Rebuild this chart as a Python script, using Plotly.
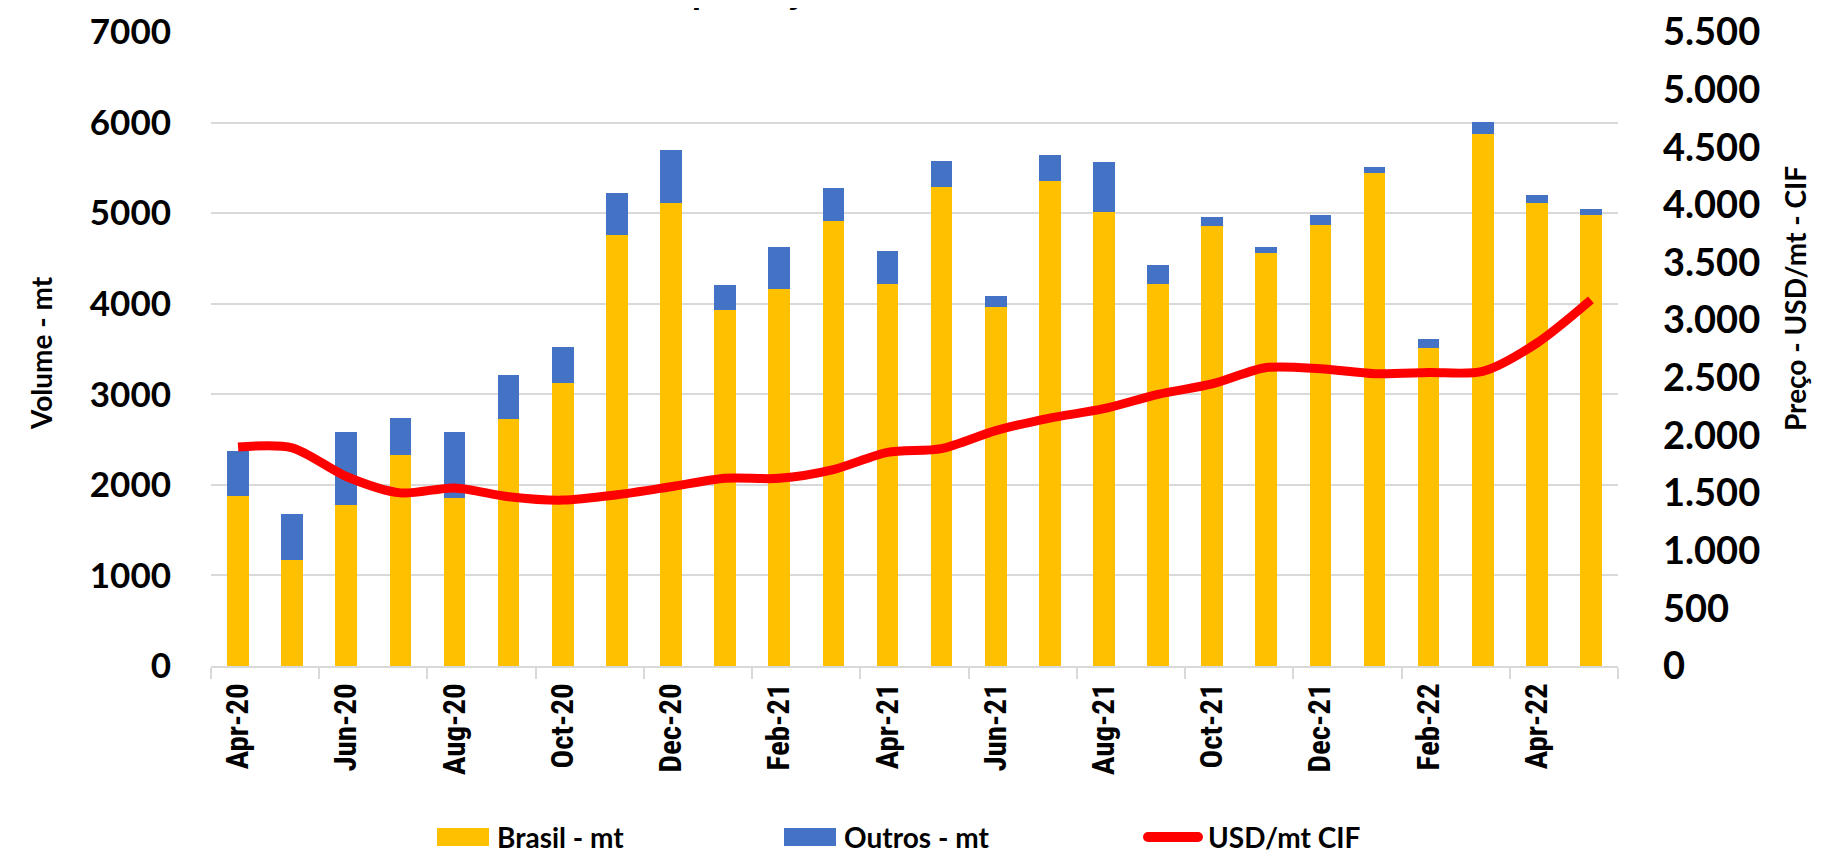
import plotly.graph_objects as go

months = ["Apr-20", "May-20", "Jun-20", "Jul-20", "Aug-20", "Sep-20", "Oct-20", "Nov-20",
          "Dec-20", "Jan-21", "Feb-21", "Mar-21", "Apr-21", "May-21", "Jun-21", "Jul-21",
          "Aug-21", "Sep-21", "Oct-21", "Nov-21", "Dec-21", "Jan-22", "Feb-22", "Mar-22",
          "Apr-22", "May-22"]
brasil = [1880, 1165, 1775, 2330, 1860, 2730, 3120, 4755, 5115, 3930, 4165, 4915, 4220,
          5285, 3960, 5360, 5010, 4220, 4855, 4555, 4870, 5445, 3515, 5875, 5110, 4980]
outros = [495, 515, 805, 410, 720, 485, 400, 465, 580, 280, 465, 365, 360, 290, 120, 285,
          550, 205, 100, 70, 115, 60, 95, 130, 90, 65]
price = [1900, 1893, 1644, 1502, 1545, 1469, 1439, 1485, 1555, 1628, 1628, 1704, 1853,
         1886, 2042, 2151, 2232, 2357, 2447, 2589, 2579, 2536, 2546, 2556, 2801, 3176]
tick_labels = months[::2]
volume_ticks = [0, 1000, 2000, 3000, 4000, 5000, 6000, 7000]
price_ticks = [0, 500, 1000, 1500, 2000, 2500, 3000, 3500, 4000, 4500, 5000, 5500]

idx = list(range(len(months)))

# the page body has an 8px margin, so the figure starts at (8, 8)
OFF = 8
W, H = 1837 - OFF, 854 - OFF
L, T = 211 - OFF, 32 - OFF
R, B = W - (1618 - OFF), H - (666 - OFF)
pw, ph = W - L - R, H - T - B


def px(x):
    # page pixel -> paper x
    return (x - OFF - L) / pw


def py(y):
    # page pixel -> paper y
    return (H - B - (y - OFF)) / ph


fig = go.Figure()
fig.add_bar(x=idx, y=brasil, name="Brasil - mt", marker=dict(color="#FFC000", line_width=0))
fig.add_bar(x=idx, y=outros, name="Outros - mt", marker=dict(color="#4472C4", line_width=0))
fig.add_scatter(x=idx, y=price, name="USD/mt CIF", yaxis="y2", mode="lines",
                line=dict(color="#FF0000", width=9, shape="spline", smoothing=0.8))

fig.update_layout(
    width=W, height=H,
    margin=dict(l=L, r=R, t=T, b=B, autoexpand=False),
    paper_bgcolor="white", plot_bgcolor="white",
    barmode="stack", bargap=0.6,
    showlegend=False,
    separators=",.",
    xaxis=dict(
        range=[-0.5, len(months) - 0.5],
        tickmode="array", tickvals=idx[::2], ticktext=tick_labels,
        tickangle=-90, ticks="", ticklabelstandoff=3,
        tickfont=dict(family="Roboto Condensed, Roboto", size=31, color="black", weight="bold"),
        showline=True, linecolor="#D9D9D9", linewidth=2,
        showgrid=False, zeroline=False,
        minor=dict(tickmode="linear", tick0=-0.5, dtick=2, ticks="outside",
                   ticklen=11, tickwidth=2, tickcolor="#D9D9D9", showgrid=False),
    ),
    yaxis=dict(
        range=[0, 7000], tickmode="array", tickvals=volume_ticks, tickformat="d",
        tickfont=dict(family="Lato", size=35, color="black", weight="bold"),
        ticklabelstandoff=39, ticklabeloverflow="allow",
        showgrid=True, gridcolor="#D9D9D9", gridwidth=2,
        zeroline=False, showline=False, ticks="",
    ),
    yaxis2=dict(
        overlaying="y", side="right",
        range=[0, 5500], tickmode="array", tickvals=price_ticks, tickformat=",d",
        tickfont=dict(family="Lato", size=38, color="black", weight="bold"),
        ticklabelstandoff=44, ticklabeloverflow="allow",
        showgrid=False, zeroline=False, showline=False, ticks="",
    ),
)

lab_font = dict(family="Lato", size=28, color="black", weight="bold")

# axis titles
fig.add_annotation(text="Volume - mt", xref="paper", yref="paper", x=px(41), y=py(353),
                   xanchor="center", yanchor="middle", textangle=-90, showarrow=False,
                   font=lab_font)
fig.add_annotation(text="Preço - USD/mt - CIF", xref="paper", yref="paper", x=px(1795),
                   y=py(299), xanchor="center", yanchor="middle", textangle=-90,
                   showarrow=False, font=lab_font)

# chart title, cut off at the top edge like the original (only descenders show)
fig.add_annotation(text="Importação", xref="paper", yref="paper", x=px(647), y=py(14),
                   xanchor="left", yanchor="bottom", showarrow=False,
                   font=dict(family="Lato", size=38, color="black", weight="bold"))

# legend drawn by hand (wide swatches like the original)
leg_y = 837
for x0, color, label in [(437, "#FFC000", "Brasil - mt"), (784, "#4472C4", "Outros - mt")]:
    fig.add_shape(type="rect", xref="paper", yref="paper",
                  x0=px(x0), x1=px(x0 + 52), y0=py(leg_y - 9), y1=py(leg_y + 9),
                  fillcolor=color, line_width=0)
    fig.add_annotation(text=label, xref="paper", yref="paper", x=px(x0 + 58), y=py(leg_y),
                       xanchor="left", yanchor="middle", showarrow=False, font=lab_font)

fig.add_shape(type="line", xref="paper", yref="paper", x0=px(1148), x1=px(1198),
              y0=py(leg_y), y1=py(leg_y), line=dict(color="#FF0000", width=10))
for cx in (1148, 1198):
    fig.add_shape(type="circle", xref="paper", yref="paper", x0=px(cx - 5), x1=px(cx + 5),
                  y0=py(leg_y - 5), y1=py(leg_y + 5), fillcolor="#FF0000", line_width=0)
fig.add_annotation(text="USD/mt CIF", xref="paper", yref="paper", x=px(1206), y=py(leg_y),
                   xanchor="left", yanchor="middle", showarrow=False, font=lab_font)

fig.write_html("out.html")
